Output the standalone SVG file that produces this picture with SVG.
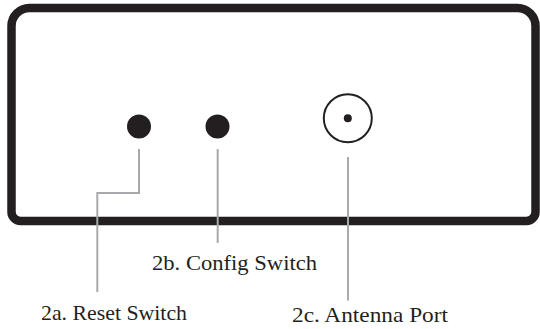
<svg xmlns="http://www.w3.org/2000/svg" width="540" height="329" viewBox="0 0 540 329">
<style>
.box{fill:none;stroke:#231f20;stroke-width:8.5}
.btn{fill:#231f20}
.conn{fill:none;stroke:#a7a9ac;stroke-width:2}
.lbl{font-family:"Palatino Linotype","Book Antiqua",Palatino,"Liberation Serif",serif;font-size:21px;fill:#231f20}
</style>
<rect width="540" height="329" fill="#fff"/>
<g id="device">
<path class="box" d="M29.5,8 H517.5 A18,18 0 0 1 535.5,26 V212 A9,9 0 0 1 526.5,221 H20.5 A9,9 0 0 1 11.5,212 V26 A18,18 0 0 1 29.5,8 Z"/>
</g>
<g id="reset-switch"><circle class="btn" cx="139" cy="126.5" r="12"/></g>
<g id="config-switch"><circle class="btn" cx="217.5" cy="126.5" r="12"/></g>
<g id="antenna-port">
<circle cx="347.8" cy="118.3" r="24" fill="none" stroke="#231f20" stroke-width="2"/>
<circle class="btn" cx="347.8" cy="118.3" r="4"/>
</g>
<g id="connectors">
<path class="conn" d="M139,149 V193 H97.3 V292"/>
<path class="conn" d="M217.7,149 V243"/>
<path class="conn" d="M348,157 V300.5"/>
</g>
<g id="labels">
<text class="lbl" x="152" y="270" textLength="165" lengthAdjust="spacingAndGlyphs">2b. Config Switch</text>
<text class="lbl" x="41" y="320" textLength="146" lengthAdjust="spacingAndGlyphs">2a. Reset Switch</text>
<text class="lbl" x="292" y="322" textLength="156" lengthAdjust="spacingAndGlyphs">2c. Antenna Port</text>
</g>
</svg>
